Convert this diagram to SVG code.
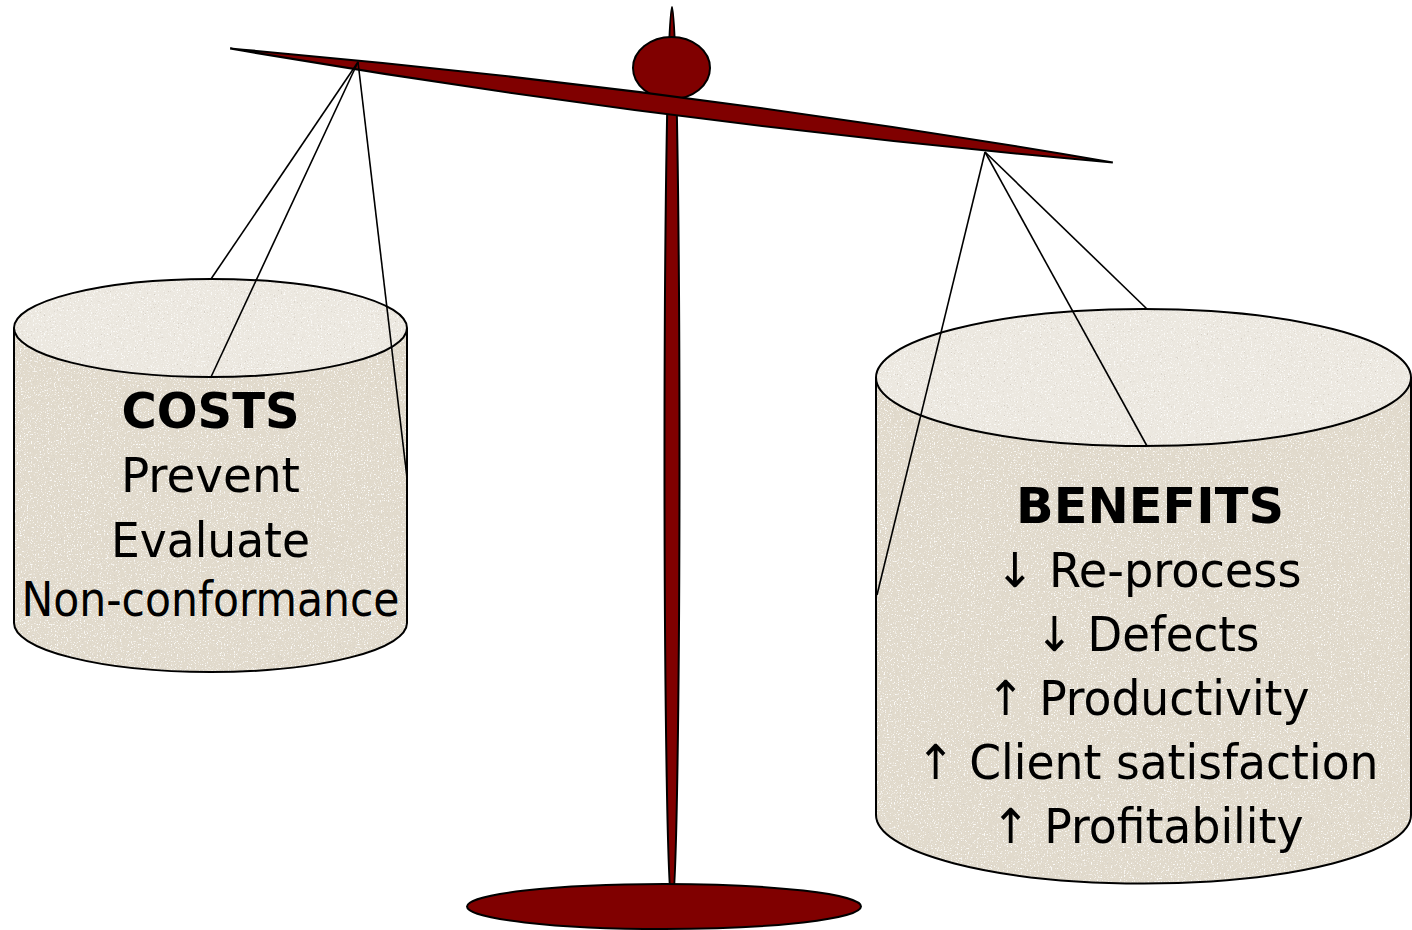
<svg xmlns="http://www.w3.org/2000/svg" width="1412" height="930" viewBox="0 0 1412 930">
  <style>
    .metal { fill: #800000; stroke: #000; stroke-width: 2; }
    .rope { stroke: #000; stroke-width: 1.6; fill: none; }
    .side { fill: #E1DACC; }
    .top { fill: #ECE8E0; }
    .rim { fill: none; stroke: #000; stroke-width: 2; }
    .lbl { font-family: "DejaVu Sans Condensed", "DejaVu Sans", sans-serif; font-size: 48px; fill: #000; text-anchor: middle; }
    .hd { font-family: "DejaVu Sans", sans-serif; font-weight: bold; font-size: 50px; }
  </style>
  <defs>
    <!-- speckled stone grain for the pans -->
    <filter id="grain" x="0" y="0" width="100%" height="100%">
      <feTurbulence type="fractalNoise" baseFrequency="0.7" numOctaves="2" seed="7" result="n"/>
      <feColorMatrix in="n" type="matrix" values="0 0 0 0 0.66  0 0 0 0 0.62  0 0 0 0 0.56  6 0 0 0 -3.9" result="dark"/>
      <feColorMatrix in="n" type="matrix" values="0 0 0 0 0.97  0 0 0 0 0.96  0 0 0 0 0.94  0 -6 0 0 2.5" result="light"/>
      <feMerge result="sp">
        <feMergeNode in="dark"/>
        <feMergeNode in="light"/>
      </feMerge>
      <feComposite in="sp" in2="SourceGraphic" operator="in" result="spc"/>
      <feMerge>
        <feMergeNode in="SourceGraphic"/>
        <feMergeNode in="spc"/>
      </feMerge>
    </filter>
  </defs>

  <!-- stand -->
  <g id="pole">
    <ellipse class="metal" cx="672" cy="458" rx="7.5" ry="451"/>
  </g>
  <g id="base">
    <ellipse class="metal" cx="664" cy="906.5" rx="197" ry="22.5"/>
  </g>
  <g id="knob">
    <ellipse class="metal" cx="671.5" cy="68" rx="38.5" ry="31"/>
  </g>
  <g id="beam">
    <path class="metal" transform="translate(671.5 105.5) rotate(7.35)" d="M -445 0 Q 0 -18.5 445 0 Q 0 18.5 -445 0 Z"/>
  </g>

  <!-- ropes hidden behind the pans -->
  <g id="ropes-back">
    <line class="rope" x1="358" y1="62" x2="211" y2="279"/>
    <line class="rope" x1="985" y1="152" x2="1147" y2="309"/>
  </g>

  <!-- left pan -->
  <g id="costs">
    <g filter="url(#grain)">
      <path class="side" d="M14 328 L14 623 A196.5 49 0 0 0 407 623 L407 328 Z"/>
      <ellipse class="top" cx="210.5" cy="328" rx="196.5" ry="49"/>
    </g>
    <path class="rim" d="M14 328 L14 623 A196.5 49 0 0 0 407 623 L407 328"/>
    <ellipse class="rim" cx="210.5" cy="328" rx="196.5" ry="49"/>
  </g>

  <!-- right pan -->
  <g id="benefits">
    <g filter="url(#grain)">
      <path class="side" d="M876 377.5 L876 815 A267.5 68.5 0 0 0 1411 815 L1411 377.5 Z"/>
      <ellipse class="top" cx="1143.5" cy="377.5" rx="267.5" ry="68.5"/>
    </g>
    <path class="rim" d="M876 377.5 L876 815 A267.5 68.5 0 0 0 1411 815 L1411 377.5"/>
    <ellipse class="rim" cx="1143.5" cy="377.5" rx="267.5" ry="68.5"/>
  </g>

  <!-- ropes in front of the pans -->
  <g id="ropes-front">
    <line class="rope" x1="358" y1="62" x2="211" y2="377"/>
    <line class="rope" x1="358" y1="62" x2="407" y2="478"/>
    <line class="rope" x1="985" y1="152" x2="1147" y2="446"/>
    <line class="rope" x1="985" y1="152" x2="877" y2="595"/>
  </g>

  <!-- labels -->
  <g id="costs-text">
    <text class="lbl hd" x="210.5" y="428" textLength="178" lengthAdjust="spacingAndGlyphs">COSTS</text>
    <text class="lbl" x="210.5" y="492" textLength="179" lengthAdjust="spacingAndGlyphs">Prevent</text>
    <text class="lbl" x="210.5" y="557" textLength="199" lengthAdjust="spacingAndGlyphs">Evaluate</text>
    <text class="lbl" x="210.5" y="616" textLength="378" lengthAdjust="spacingAndGlyphs">Non-conformance</text>
  </g>
  <g id="benefits-text">
    <text class="lbl hd" x="1150" y="523" textLength="268" lengthAdjust="spacingAndGlyphs">BENEFITS</text>
    <text class="lbl" x="1148.5" y="587" textLength="306" lengthAdjust="spacingAndGlyphs">↓ Re-process</text>
    <text class="lbl" x="1147.5" y="651" textLength="224" lengthAdjust="spacingAndGlyphs">↓ Defects</text>
    <text class="lbl" x="1148" y="715" textLength="323" lengthAdjust="spacingAndGlyphs">↑ Productivity</text>
    <text class="lbl" x="1147.5" y="779" textLength="462" lengthAdjust="spacingAndGlyphs">↑ Client satisfaction</text>
    <text class="lbl" x="1147.5" y="843" textLength="312" lengthAdjust="spacingAndGlyphs">↑ Profitability</text>
  </g>
</svg>
